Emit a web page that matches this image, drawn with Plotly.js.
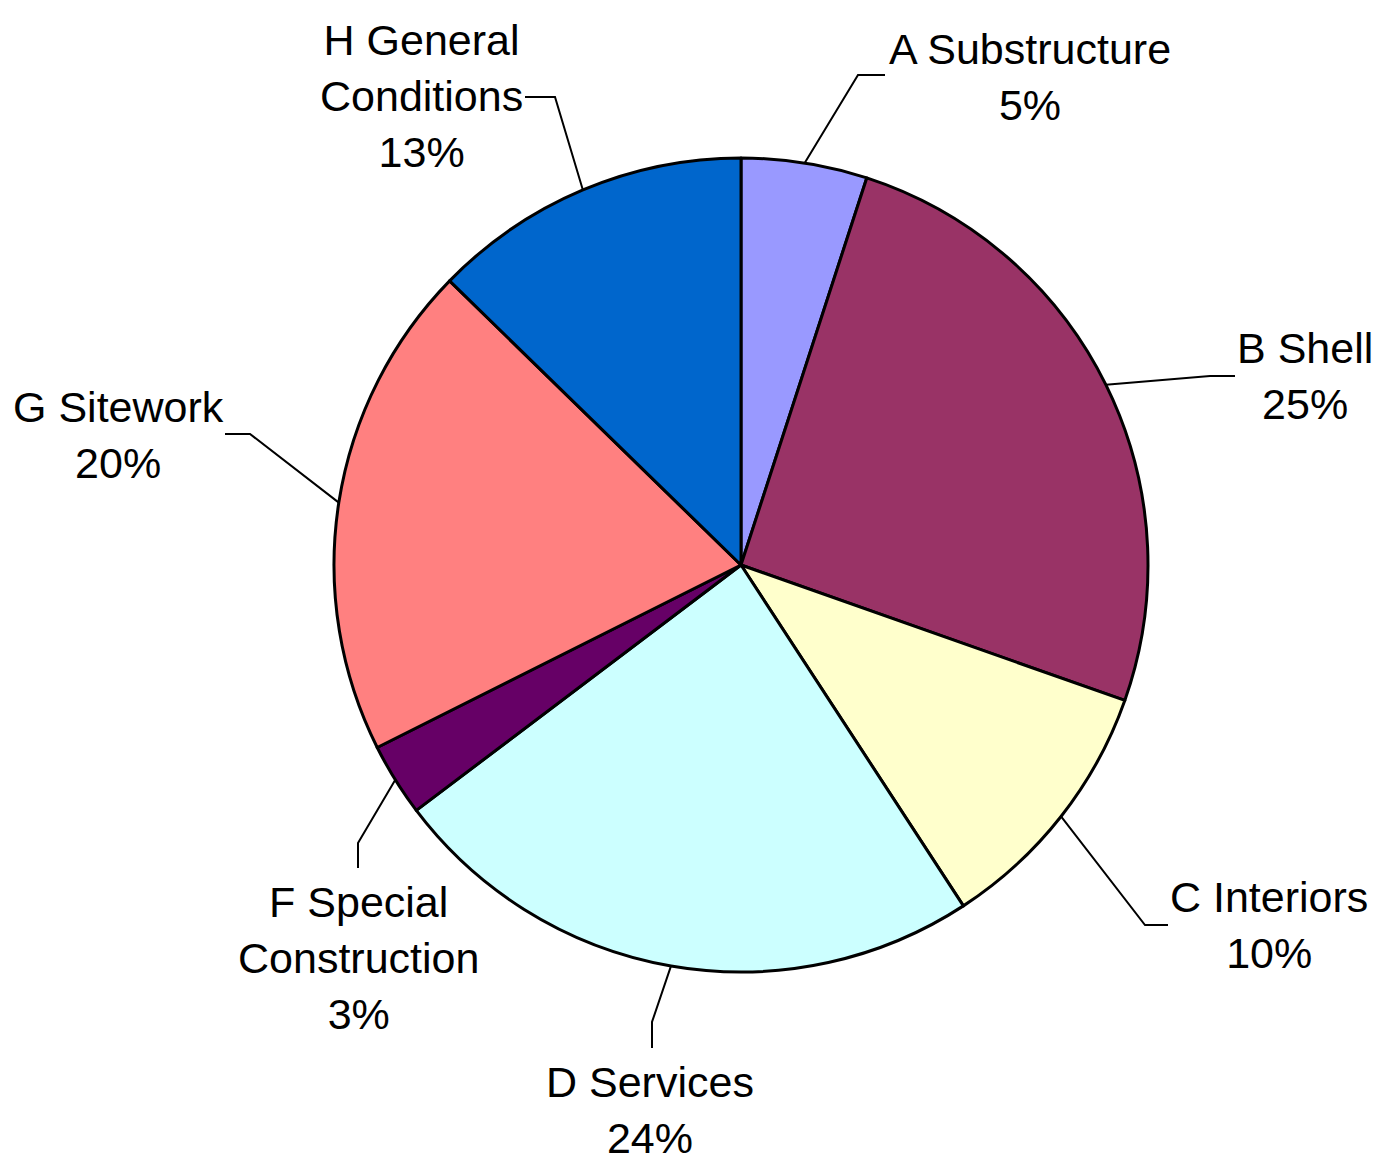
<!DOCTYPE html>
<html>
<head>
<meta charset="utf-8">
<script src="https://cdn.plot.ly/plotly-3.0.1.min.js"></script>
<style>html,body{margin:0;padding:0;background:#fff;}#chart{width:1384px;height:1167px;}</style>
</head>
<body>
<div id="chart"></div>
<script>
// Data
const categories = ["A Substructure", "B Shell", "C Interiors", "D Services", "F Special Construction", "G Sitework", "H General Conditions"];
const labelTexts = ["A Substructure", "B Shell", "C Interiors", "D Services", "F Special<br>Construction", "G Sitework", "H General<br>Conditions"];
const shares = [5.0, 25.4, 10.4, 23.9, 2.9, 19.7, 12.7];
const colors = ["#9999FF", "#993366", "#FFFFCC", "#CCFFFF", "#660066", "#FF8080", "#0066CC"];

// Layout (pixel geometry)
const W = 1384, H = 1167;
const M = {l: 98, r: 0, t: 158, b: 195};
const plotW = W - M.l - M.r, plotH = H - M.t - M.b;
const cx = M.l + plotW / 2, cy = M.t + plotH / 2;
const R = Math.min(plotW, plotH) / 2;
const px2x = px => (px - M.l) / plotW;
const py2y = py => (H - M.b - py) / plotH;

// label block centres and leader elbow/end points (pixels)
const labelPos = [[1030, 77], [1305, 376], [1269, 925], [650, 1110], [358, 958], [421, 96], [118, 435]];
const labelPosOrdered = [[1030, 77], [1305, 376], [1269, 925], [650, 1110], [358, 958], [118, 435], [421, 96]];
const elbows = [[[858, 75], [885, 75]], [[1210, 376], [1235, 376]], [[1145, 925], [1168, 925]],
                [[652, 1022], [652, 1048]], [[358, 843], [358, 868]], [[250, 434], [225, 434]], [[555, 97], [525, 97]]];

const total = shares.reduce((a, b) => a + b, 0);
let cum = 0;
const shapes = [], annotations = [];
shares.forEach((v, i) => {
  const mid = (cum + v / 2) / total * 2 * Math.PI;
  cum += v;
  const ex = cx + R * Math.sin(mid), ey = cy - R * Math.cos(mid);
  const [p1, p2] = elbows[i];
  shapes.push({
    type: 'path', xref: 'paper', yref: 'paper',
    path: `M ${px2x(ex)} ${py2y(ey)} L ${px2x(p1[0])} ${py2y(p1[1])} L ${px2x(p2[0])} ${py2y(p2[1])}`,
    line: {color: '#000', width: 2}
  });
  const pct = Math.round(v / total * 100) + '%';
  annotations.push({
    xref: 'paper', yref: 'paper', x: px2x(labelPosOrdered[i][0]), y: py2y(labelPosOrdered[i][1]),
    xanchor: 'center', yanchor: 'middle', showarrow: false, align: 'center',
    text: labelTexts[i] + '<br>' + pct,
    font: {family: 'Liberation Sans, Arial, sans-serif', size: 43, color: '#000'}
  });
});

const trace = {
  type: 'pie', labels: categories, values: shares, sort: false, direction: 'clockwise', rotation: 0,
  marker: {colors: colors, line: {color: '#000', width: 3}},
  textinfo: 'none', hoverinfo: 'label+percent', showlegend: false
};

Plotly.newPlot('chart', [trace], {
  width: W, height: H, margin: M, paper_bgcolor: '#fff', plot_bgcolor: '#fff',
  showlegend: false, shapes: shapes, annotations: annotations
}, {displayModeBar: false, staticPlot: true});
</script>
</body>
</html>
